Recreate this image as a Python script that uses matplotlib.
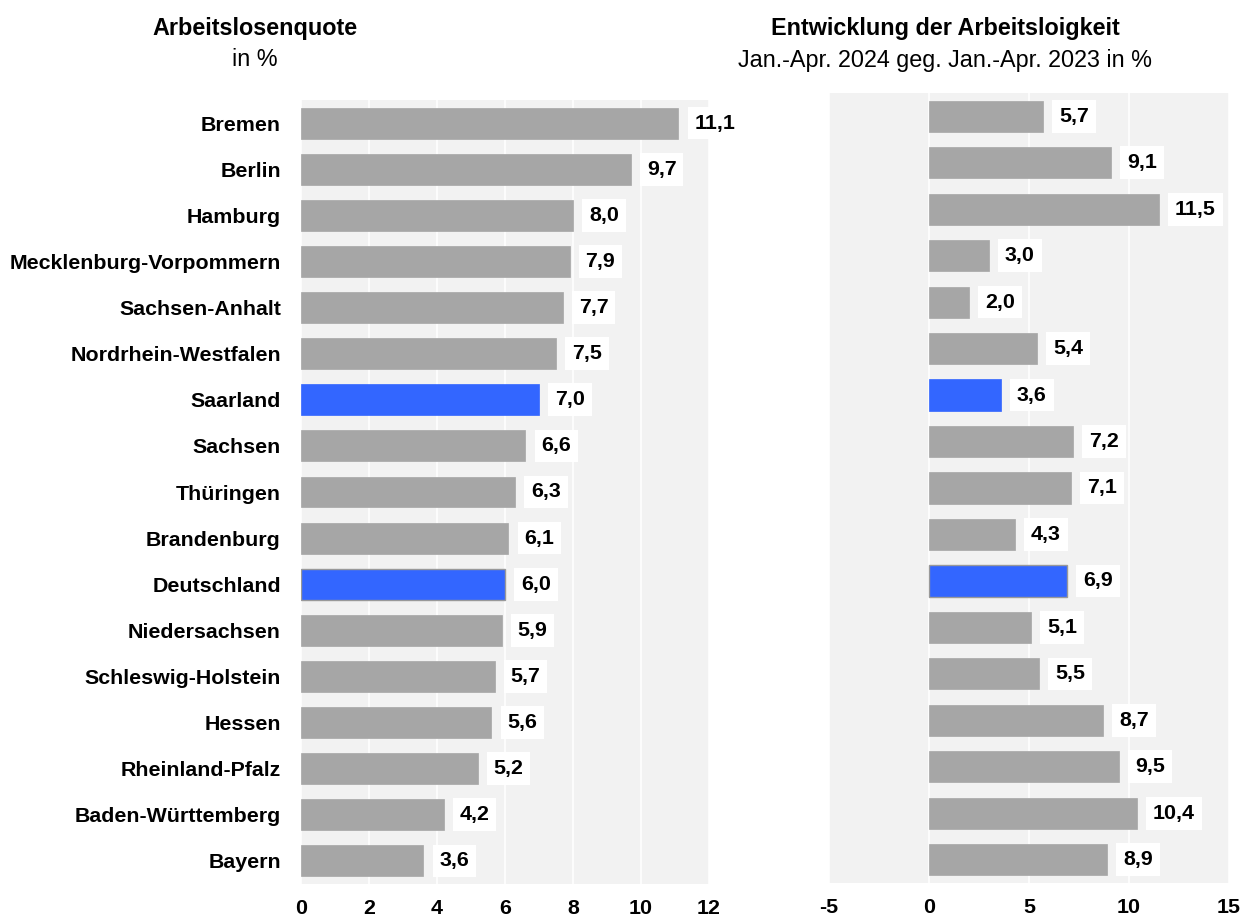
import matplotlib
matplotlib.use("Agg")
import matplotlib.pyplot as plt

laender = ["Bremen", "Berlin", "Hamburg", "Mecklenburg-Vorpommern", "Sachsen-Anhalt",
           "Nordrhein-Westfalen", "Saarland", "Sachsen", "Thüringen", "Brandenburg",
           "Deutschland", "Niedersachsen", "Schleswig-Holstein", "Hessen",
           "Rheinland-Pfalz", "Baden-Württemberg", "Bayern"]
quote = [11.1, 9.7, 8.0, 7.9, 7.7, 7.5, 7.0, 6.6, 6.3, 6.1, 6.0, 5.9, 5.7, 5.6, 5.2, 4.2, 3.6]
entwicklung = [5.7, 9.1, 11.5, 3.0, 2.0, 5.4, 3.6, 7.2, 7.1, 4.3, 6.9, 5.1, 5.5, 8.7, 9.5, 10.4, 8.9]
highlight = ["Saarland", "Deutschland"]

GRAY = "#a6a6a6"
BLUE = "#3366ff"
BG = "#f2f2f2"
FS = 15.4     # labels, values, ticks
FS_T = 16.8   # titles

plt.rcParams["font.family"] = ["Liberation Sans", "DejaVu Sans"]

fig = plt.figure(figsize=(12.43, 9.18), dpi=100)
W, H = 1243, 918
ax1 = fig.add_axes([301 / W, 1 - 884 / H, (709 - 301) / W, (884 - 100) / H])
ax2 = fig.add_axes([829 / W, 1 - 883 / H, (1229 - 829) / W, (883 - 93) / H])

colors = [BLUE if l in highlight else GRAY for l in laender]
ypos = list(range(len(laender)))


def fmt(v):
    return f"{v:.1f}".replace(".", ",")


def draw(ax, values, xlim, ticks):
    ax.set_facecolor(BG)
    ax.barh(ypos, values, height=0.67, color=colors, zorder=2,
            edgecolor=["#999999" if l == "Deutschland" else c for l, c in zip(laender, colors)],
            linewidth=[1.0 if l == "Deutschland" else 0.5 for l in laender])
    for y, v in zip(ypos, values):
        ax.annotate(fmt(v), (v, y), xytext=(11.5, 0), textcoords="offset points",
                    va="center", ha="left", fontsize=FS, fontweight="bold", zorder=3,
                    annotation_clip=False,
                    bbox=dict(facecolor="white", edgecolor="none", pad=5))
    ax.set_xlim(*xlim)
    ax.set_ylim(len(laender) - 0.5, -0.5)
    ax.set_xticks(ticks)
    ax.set_xticklabels([str(t) for t in ticks], fontsize=FS, fontweight="bold")
    ax.grid(axis="x", color="white", linewidth=1.2, zorder=1)
    ax.set_axisbelow(True)
    for s in ax.spines.values():
        s.set_visible(False)
    ax.tick_params(length=0, pad=10.5)


draw(ax1, quote, (0, 12), [0, 2, 4, 6, 8, 10, 12])
ax1.set_yticks(ypos)
ax1.set_yticklabels(laender, fontsize=FS, fontweight="bold")
ax1.tick_params(axis="y", pad=14.5)

draw(ax2, entwicklung, (-5, 15), [-5, 0, 5, 10, 15])
ax2.set_yticks([])

fig.text(255 / W, 1 - 28 / H, "Arbeitslosenquote", ha="center", va="center",
         fontsize=FS_T, fontweight="bold")
fig.text(255 / W, 1 - 60 / H, "in %", ha="center", va="center", fontsize=FS_T)
fig.text(945 / W, 1 - 28 / H, "Entwicklung der Arbeitsloigkeit", ha="center", va="center",
         fontsize=FS_T, fontweight="bold")
fig.text(945 / W, 1 - 60 / H, "Jan.-Apr. 2024 geg. Jan.-Apr. 2023 in %", ha="center",
         va="center", fontsize=FS_T)

fig.savefig("out.png", dpi=100, facecolor="white")
